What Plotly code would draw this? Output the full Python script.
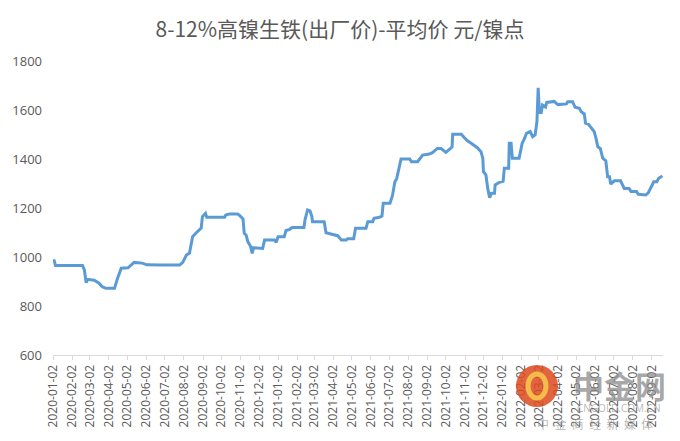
import plotly.graph_objects as go

dates = [
    "2020-01-02", "2020-01-04", "2020-01-06", "2020-02-19", "2020-02-22", "2020-02-25", "2020-02-27",
    "2020-03-09", "2020-03-17", "2020-03-22", "2020-03-28", "2020-04-11", "2020-04-16", "2020-04-22",
    "2020-05-03", "2020-05-05", "2020-05-13", "2020-05-26", "2020-06-03", "2020-06-25", "2020-07-26",
    "2020-07-31", "2020-08-06", "2020-08-11", "2020-08-16", "2020-08-22", "2020-08-27", "2020-08-30",
    "2020-09-01", "2020-09-06", "2020-09-08", "2020-10-07", "2020-10-09", "2020-10-15", "2020-10-28",
    "2020-10-31", "2020-11-06", "2020-11-08", "2020-11-11", "2020-11-14", "2020-11-18", "2020-11-21",
    "2020-11-23", "2020-12-08", "2020-12-11", "2020-12-27", "2020-12-30", "2021-01-02", "2021-01-12",
    "2021-01-15", "2021-01-21", "2021-01-25", "2021-02-13", "2021-02-15", "2021-02-19", "2021-02-23",
    "2021-02-26", "2021-02-27", "2021-03-18", "2021-03-21", "2021-04-01", "2021-04-09", "2021-04-15",
    "2021-04-23", "2021-04-25", "2021-05-05", "2021-05-08", "2021-05-25", "2021-05-28", "2021-06-05",
    "2021-06-07", "2021-06-16", "2021-06-20", "2021-06-22", "2021-07-03", "2021-07-07", "2021-07-11",
    "2021-07-14", "2021-07-21", "2021-08-04", "2021-08-07", "2021-08-17", "2021-08-25", "2021-09-05",
    "2021-09-10", "2021-09-18", "2021-09-24", "2021-10-02", "2021-10-08", "2021-10-12", "2021-10-13",
    "2021-10-27", "2021-11-01", "2021-11-06", "2021-11-12", "2021-11-17", "2021-11-22", "2021-11-28",
    "2021-12-01", "2021-12-02", "2021-12-06", "2021-12-09", "2021-12-12", "2021-12-15", "2021-12-20",
    "2021-12-21", "2021-12-28", "2022-01-03", "2022-01-05", "2022-01-12", "2022-01-13", "2022-01-16",
    "2022-01-18", "2022-01-29", "2022-02-03", "2022-02-07", "2022-02-10", "2022-02-16", "2022-02-20",
    "2022-02-24", "2022-02-27", "2022-03-01", "2022-03-03", "2022-03-06", "2022-03-08", "2022-03-13",
    "2022-03-15", "2022-03-27", "2022-04-02", "2022-04-16", "2022-04-18", "2022-04-26", "2022-04-30",
    "2022-05-07", "2022-05-10", "2022-05-15", "2022-05-17", "2022-05-22", "2022-05-26", "2022-05-31",
    "2022-06-03", "2022-06-06", "2022-06-10", "2022-06-14", "2022-06-19", "2022-06-22", "2022-06-25",
    "2022-06-27", "2022-07-03", "2022-07-13", "2022-07-19", "2022-07-27", "2022-07-30", "2022-08-08",
    "2022-08-11", "2022-08-23", "2022-08-27", "2022-09-01", "2022-09-05", "2022-09-10", "2022-09-13",
    "2022-09-19",
]

prices = [
    985, 985, 965, 965, 947, 895, 909,
    905, 893, 879, 872, 872, 913, 954,
    956, 960, 978, 975, 968, 967, 967,
    978, 1008, 1016, 1083, 1099, 1110, 1118,
    1165, 1178, 1162, 1162, 1171, 1176, 1176,
    1171, 1155, 1097, 1090, 1062, 1045, 1015,
    1038, 1035, 1069, 1069, 1060, 1083, 1083,
    1108, 1113, 1120, 1120, 1154, 1192, 1188,
    1165, 1144, 1144, 1099, 1092, 1087, 1069,
    1069, 1075, 1075, 1117, 1117, 1144, 1144,
    1158, 1162, 1167, 1219, 1219, 1250, 1307,
    1321, 1400, 1400, 1389, 1389, 1416, 1420,
    1426, 1443, 1443, 1427, 1440, 1450, 1501,
    1501, 1487, 1474, 1464, 1454, 1446, 1430,
    1403, 1348, 1335, 1280, 1242, 1260, 1260,
    1294, 1305, 1309, 1362, 1362, 1464, 1464,
    1403, 1403, 1464, 1485, 1505, 1512, 1491,
    1498, 1552, 1691, 1590, 1590, 1620, 1612,
    1631, 1635, 1622, 1625, 1634, 1634, 1611,
    1607, 1593, 1584, 1546, 1541, 1530, 1512,
    1485, 1450, 1443, 1403, 1393, 1328, 1328,
    1298, 1311, 1311, 1280, 1280, 1267, 1267,
    1256, 1253, 1262, 1290, 1307, 1307, 1321,
    1331,
]

tick_dates = [
    "2020-01-02", "2020-02-02", "2020-03-02", "2020-04-02", "2020-05-02", "2020-06-02",
    "2020-07-02", "2020-08-02", "2020-09-02", "2020-10-02", "2020-11-02", "2020-12-02",
    "2021-01-02", "2021-02-02", "2021-03-02", "2021-04-02", "2021-05-02", "2021-06-02",
    "2021-07-02", "2021-08-02", "2021-09-02", "2021-10-02", "2021-11-02", "2021-12-02",
    "2022-01-02", "2022-02-02", "2022-03-02", "2022-04-02", "2022-05-02", "2022-06-02",
    "2022-07-02", "2022-08-02", "2022-09-02",
]
y_ticks = [600, 800, 1000, 1200, 1400, 1600, 1800]

title_text = "8-12%高镍生铁(出厂价)-平均价 元/镍点"

fig = go.Figure()
fig.add_trace(go.Scatter(
    x=dates, y=prices, mode="lines",
    line=dict(color="#5B9BD5", width=3),
    hoverinfo="x+y",
))

grey = "#595959"
fig.update_layout(
    width=680, height=441,
    margin=dict(l=53, r=17, t=61, b=86, autoexpand=False),
    paper_bgcolor="white", plot_bgcolor="white",
    showlegend=False,
    title=dict(text=title_text, x=0.5, xanchor="center", y=1 - 30 / 441, yanchor="middle",
               font=dict(family="Noto Sans CJK SC", size=21, color=grey)),
    font=dict(family="Open Sans", color=grey),
)
fig.update_xaxes(
    type="date", range=["2020-01-02", "2022-09-20"],
    tickmode="array", tickvals=tick_dates, ticktext=tick_dates,
    tickangle=-90, tickfont=dict(size=12, color=grey),
    showgrid=False, showline=True, linecolor="#d9d9d9", linewidth=1,
    ticks="outside", ticklen=4, tickcolor="#d9d9d9", zeroline=False,
)
fig.update_yaxes(
    range=[600, 1800], tickvals=y_ticks,
    tickfont=dict(size=13, color=grey), ticklabelstandoff=10,
    showgrid=False, showline=False, zeroline=False, ticks="",
)

# watermark (中金网)
fig.add_shape(type="circle", xref="paper", yref="paper",
              x0=(516 - 53) / 610, x1=(558 - 53) / 610,
              y0=(355 - 407) / 294, y1=(355 - 365) / 294,
              fillcolor="#dd4a1f", line=dict(width=0), opacity=0.85)
fig.add_shape(type="circle", xref="paper", yref="paper",
              x0=(528 - 53) / 610, x1=(546 - 53) / 610,
              y0=(355 - 398) / 294, y1=(355 - 374) / 294,
              fillcolor="rgba(0,0,0,0)", line=dict(width=5, color="#f6c64a"), opacity=0.9)
fig.add_annotation(text="<b>中金网</b>", xref="paper", yref="paper",
                   x=(619 - 53) / 610, y=(355 - 384) / 294, showarrow=False,
                   xanchor="center", yanchor="middle",
                   font=dict(family="Noto Sans CJK SC", size=31, color="rgba(140,140,140,0.75)"))
fig.add_annotation(text="CNGOLD.COM.CN", xref="paper", yref="paper",
                   x=(619 - 53) / 610, y=(355 - 408) / 294, showarrow=False,
                   xanchor="center", yanchor="middle",
                   font=dict(family="Open Sans", size=10, color="rgba(150,150,150,0.7)"))
fig.add_annotation(text="中  金  商  经  新  媒  体", xref="paper", yref="paper",
                   x=(595 - 53) / 610, y=(355 - 423) / 294, showarrow=False,
                   xanchor="center", yanchor="middle",
                   font=dict(family="Noto Sans CJK SC", size=12, color="rgba(150,150,150,0.7)"))

fig.write_html("out.html", config={"displayModeBar": False},
               post_script="document.body.style.margin='0';")
